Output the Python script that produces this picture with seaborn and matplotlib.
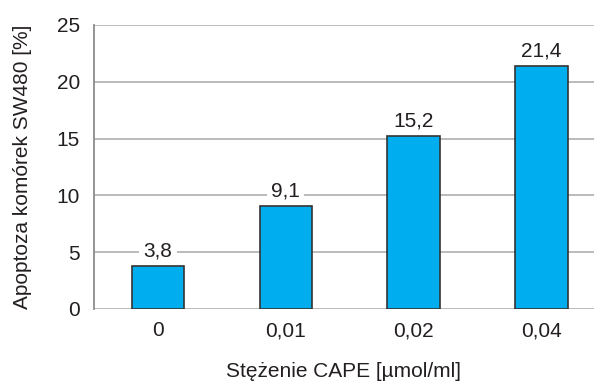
import matplotlib
matplotlib.use("Agg")
import matplotlib.pyplot as plt
import seaborn as sns
import pandas as pd

# data
concentrations = ["0", "0,01", "0,02", "0,04"]
apoptosis = [3.8, 9.1, 15.2, 21.4]
value_labels = ["3,8", "9,1", "15,2", "21,4"]

df = pd.DataFrame({"conc": concentrations, "apoptosis": apoptosis})

sns.set_style("white")
plt.rcParams["font.family"] = ["Liberation Sans", "DejaVu Sans"]
text_color = "#231f20"
fs = 15

fig = plt.figure(figsize=(5.94, 3.82), dpi=100)
ax = fig.add_axes([94 / 594, 1 - 309 / 382, 500 / 594, 284 / 382])

sns.barplot(data=df, x="conc", y="apoptosis", color="#00adee", saturation=1,
            width=0.41, edgecolor="#333333", linewidth=1.2, ax=ax, zorder=3)

ax.set_ylim(0, 25)
ax.set_xlim(-0.5, 3.41)
ax.set_yticks([0, 5, 10, 15, 20, 25])
ax.yaxis.grid(True, color="#a8a8a8", linewidth=1.1, zorder=0)
ax.set_axisbelow(True)

for s in ["top", "right", "bottom"]:
    ax.spines[s].set_visible(False)
ax.spines["left"].set_color("#8c8c8c")
ax.spines["left"].set_linewidth(1.3)

ax.tick_params(axis="y", length=4, color="#a8a8a8", labelsize=fs,
               labelcolor=text_color, pad=6)
ax.tick_params(axis="x", length=0, labelsize=fs, labelcolor=text_color, pad=9)

for i, (v, lab) in enumerate(zip(apoptosis, value_labels)):
    ax.annotate(lab, (i, v), xytext=(0, 4), textcoords="offset points",
                ha="center", va="bottom", fontsize=fs, color=text_color,
                bbox=dict(facecolor="white", edgecolor="none", pad=3), zorder=4)

ax.set_xlabel("Stężenie CAPE [µmol/ml]", fontsize=fs, color=text_color)
ax.set_ylabel("Apoptoza komórek SW480 [%]", fontsize=fs, color=text_color)
ax.xaxis.set_label_coords(0.5, -0.185)
ax.yaxis.set_label_coords(-0.124, 0.5)

fig.savefig("out.png", dpi=100)
